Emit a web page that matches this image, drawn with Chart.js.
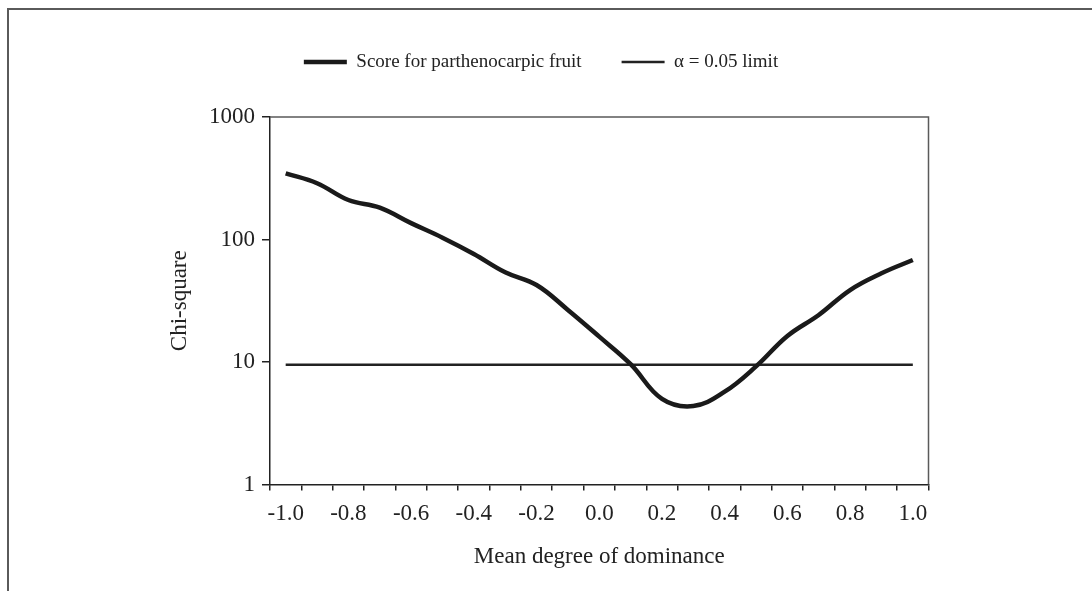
<!DOCTYPE html>
<html>
<head>
<meta charset="utf-8">
<script src="https://cdn.jsdelivr.net/npm/chart.js@4/dist/chart.umd.min.js"></script>
<style>
html,body{margin:0;padding:0;background:#fff;}
#wrap{position:relative;width:1092px;height:591px;overflow:hidden;}
#frame{position:absolute;left:7px;top:8px;width:1200px;height:700px;border-left:2px solid #5a5a5a;border-top:2px solid #5a5a5a;pointer-events:none;}
</style>
</head>
<body>
<div id="wrap"><canvas id="c" width="1092" height="591"></canvas><div id="frame"></div></div>
<script>
const categories = ['-1.0','-0.9','-0.8','-0.7','-0.6','-0.5','-0.4','-0.3','-0.2','-0.1','0.0','0.1','0.2','0.3','0.4','0.5','0.6','0.7','0.8','0.9','1.0'];
const xTickLabels = ['-1.0','-0.8','-0.6','-0.4','-0.2','0.0','0.2','0.4','0.6','0.8','1.0'];
const yTickValues = [1, 10, 100, 1000];
const scoreValues = [347, 288, 210, 182, 136, 103.5, 76.2, 54, 42.5, 26.6, 16.1, 9.6, 5.0, 4.37, 5.72, 9.2, 16.3, 24.2, 38.7, 53, 68];
const limitValues = [9.49, 9.49, 9.49, 9.49, 9.49, 9.49, 9.49, 9.49, 9.49, 9.49, 9.49, 9.49, 9.49, 9.49, 9.49, 9.49, 9.49, 9.49, 9.49, 9.49, 9.49];
const seriesNames = ['Score for parthenocarpic fruit', '\u03B1 = 0.05 limit'];
const axisTitles = {x: 'Mean degree of dominance', y: 'Chi-square'};

const FONT = 'Liberation Serif, Times New Roman, serif';
const INK = '#222';

const legendSpace = {
  id: 'legendSpace',
  beforeInit(chart) {
    const lg = chart.legend;
    if (!lg) return;
    const orig = lg.fit;
    lg.fit = function () { orig.call(this); this.height += 35.5; };
  }
};
const plotBorder = {
  id: 'plotBorder',
  afterDraw(chart) {
    const {ctx, chartArea: a} = chart;
    ctx.save();
    ctx.strokeStyle = '#5a5a5a';
    ctx.lineWidth = 1.5;
    ctx.beginPath();
    ctx.moveTo(a.left, a.top);
    ctx.lineTo(a.right, a.top);
    ctx.lineTo(a.right, a.bottom);
    ctx.stroke();
    ctx.restore();
  }
};

new Chart(document.getElementById('c'), {
  type: 'line',
  data: {
    labels: categories,
    datasets: [
      {label: seriesNames[0], data: scoreValues, borderColor: '#1a1a1a', backgroundColor: '#1a1a1a', borderWidth: 4.5, pointRadius: 0, tension: 0.4, fill: false},
      {label: seriesNames[1], data: limitValues, borderColor: '#222', backgroundColor: '#222', borderWidth: 2.5, pointRadius: 0, tension: 0, fill: false}
    ]
  },
  options: {
    responsive: false,
    animation: false,
    devicePixelRatio: 1,
    layout: {padding: {top: 12.5, left: 0, right: 10, bottom: 0}},
    plugins: {
      tooltip: {enabled: false},
      legend: {
        position: 'top',
        labels: {
          usePointStyle: true,
          pointStyle: 'line',
          pointStyleWidth: 43,
          padding: 40,
          color: INK,
          font: {family: FONT, size: 19}
        }
      }
    },
    scales: {
      x: {
        type: 'category',
        offset: true,
        grid: {offset: true, drawOnChartArea: false, drawTicks: true, tickLength: 6, color: INK, lineWidth: 1.5},
        border: {display: true, color: INK, width: 1.5},
        ticks: {
          autoSkip: false, maxRotation: 0, minRotation: 0, padding: 10, color: INK,
          font: {family: FONT, size: 23},
          callback(v, i) { const l = categories[i]; return xTickLabels.includes(l) ? l : ''; }
        },
        title: {display: true, text: axisTitles.x, color: INK, font: {family: FONT, size: 23}, padding: {top: 0, bottom: 20}},
        afterFit(s) { s.height = 106.5; }
      },
      y: {
        type: 'logarithmic',
        min: 1, max: 1000,
        afterBuildTicks(s) { s.ticks = yTickValues.map(v => ({value: v})); },
        grid: {drawOnChartArea: false, drawTicks: true, tickLength: 8, color: INK, lineWidth: 1.5},
        border: {display: true, color: INK, width: 1.5},
        ticks: {padding: 7, color: INK, font: {family: FONT, size: 23}, callback(v) { return String(v); }},
        title: {display: true, text: axisTitles.y, color: INK, font: {family: FONT, size: 23}, padding: {top: 166, bottom: 0}},
        afterFit(s) { s.width = 270; }
      },
      yRight: {
        type: 'linear', position: 'right', display: true, min: 0, max: 1,
        grid: {display: false}, border: {display: false}, ticks: {display: false},
        afterFit(s) { s.width = 153.5; }
      }
    }
  },
  plugins: [legendSpace, plotBorder]
});
</script>
</body>
</html>
